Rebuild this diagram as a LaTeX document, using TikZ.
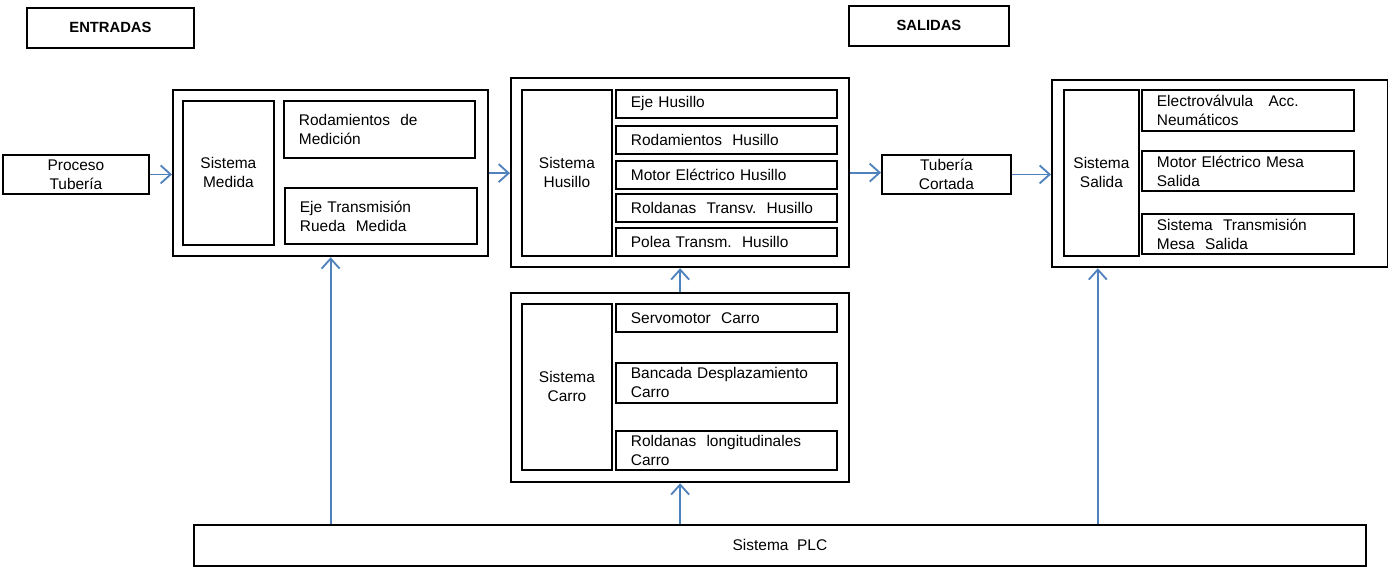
\documentclass[tikz,border=0pt]{standalone}
\usepackage{fontspec}
\setmainfont{Liberation Sans}
\usetikzlibrary{arrows.meta,positioning}
\definecolor{ink}{HTML}{000000}
\definecolor{flow}{HTML}{4F81BD}
\tikzset{
  box/.style={draw=ink,line width=1.3pt,fill=white,inner sep=0pt,anchor=north west,font=\fontsize{11}{13.5}\selectfont},
  frame/.style={box,line width=1.6pt},
  head/.style={box,font=\fontsize{10.5}{12}\selectfont\bfseries},
  sys/.style={box,align=center},
  part/.style={box,align=left,inner xsep=3.75mm},
  ar/.style={-{Straight Barb[length=2.5mm,width=4.5mm]},draw=flow,line width=1.3pt},
}
\begin{document}
\begin{tikzpicture}[x=0.25mm,y=-0.25mm]
  \useasboundingbox (0,0) rectangle (1388,568);
  \node[head,minimum width=41.75mm,minimum height=10mm] (inp) at (26,7) {ENTRADAS};
  \node[head,minimum width=40mm,minimum height=10mm] (outp) at (848,5) {SALIDAS};
  \node[sys,minimum width=36.5mm,minimum height=9.75mm] (proc) at (2,154) {Proceso\\Tubería};
  \node[frame,minimum width=78.75mm,minimum height=41.5mm] (med) at (172,89) {};
  \node[sys,minimum width=22.75mm,minimum height=36mm] (medS) at (182,100) {Sistema\\Medida};
  \node[part,text width=40.25mm,minimum height=14.25mm] (med1) at (283,100) {Rodamientos\ \ de\\Medición};
  \node[part,text width=40.5mm,minimum height=14mm] (med2) at (284,187) {Eje Transmisión\\Rueda\ \ Medida};
  \node[frame,minimum width=84.5mm,minimum height=47.25mm] (hus) at (510,77) {};
  \node[sys,minimum width=22.5mm,minimum height=41.5mm] (husS) at (521,89) {Sistema\\Husillo};
  \foreach \y/\t [count=\i] in {89/Eje Husillo,125/Rodamientos\ \ Husillo,160/Motor Eléctrico Husillo,193/Roldanas\ \ Transv.\ \ Husillo,227/Polea Transm.\ \ Husillo}
    \node[part,text width=47.75mm,minimum height=7mm] (hus\i) at (615,\y) {\t};
  \node[sys,minimum width=32.25mm,minimum height=9.75mm] (tub) at (881,154) {Tubería\\Cortada};
  \node[frame,minimum width=84mm,minimum height=46.75mm] (sal) at (1051,79) {};
  \node[sys,minimum width=18.75mm,minimum height=41.5mm] (salS) at (1063,89) {Sistema\\Salida};
  \node[part,text width=45.5mm,minimum height=10.25mm] (sal1) at (1141,89) {Electroválvula\ \ \ Acc.\\Neumáticos};
  \node[part,text width=45.5mm,minimum height=10mm] (sal2) at (1141,150) {Motor Eléctrico Mesa\\Salida};
  \node[part,text width=45.5mm,minimum height=10mm] (sal3) at (1141,213) {Sistema\ \ Transmisión\\Mesa\ \ Salida};
  \node[frame,minimum width=84.5mm,minimum height=47.25mm] (car) at (510,292) {};
  \node[sys,minimum width=22.5mm,minimum height=41.5mm] (carS) at (521,303) {Sistema\\Carro};
  \node[part,text width=47.75mm,minimum height=7mm] (car1) at (615,303) {Servomotor\ \ Carro};
  \node[part,text width=47.75mm,minimum height=10mm] (car2) at (615,362) {Bancada Desplazamiento\\Carro};
  \node[part,text width=47.75mm,minimum height=9.75mm] (car3) at (615,430) {Roldanas\ \ longitudinales\\Carro};
  \node[sys,minimum width=293mm,minimum height=10.25mm] (plc) at (193,524) {Sistema\ \ PLC};
  \draw[ar] (proc.east) -- (proc.east -| med.west);
  \draw[ar] (med.east) -- (med.east -| hus.west);
  \draw[ar] (hus.east) -- (hus.east -| tub.west);
  \draw[ar] (tub.east) -- (tub.east -| sal.west);
  \draw[ar] (car.north) -- (hus.south);
  \foreach \n in {med,car}
    \draw[ar] (\n.south |- plc.north) -- (\n.south);
  \draw[ar] ([xshift=-0.9mm]salS.south |- plc.north) -- ([xshift=-0.9mm]salS.south |- sal.south);
\end{tikzpicture}
\end{document}
